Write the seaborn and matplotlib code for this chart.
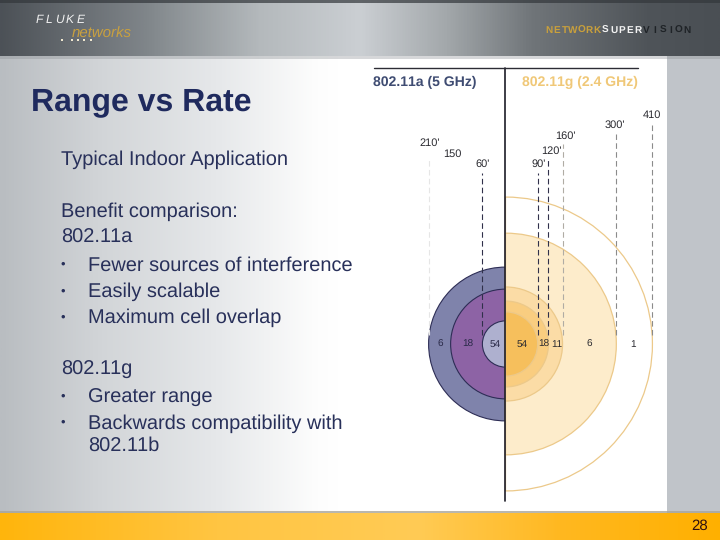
import numpy as np
import pandas as pd
import matplotlib
matplotlib.use("Agg")
import matplotlib.pyplot as plt
from matplotlib.colors import LinearSegmentedColormap
from matplotlib.patches import Wedge, Rectangle
import seaborn as sns

# ---- data ----
a_rates = ["54", "18", "6"]
a_range_labels = ["60'", "150", "210'"]
a_reach_ft = [64, 152, 213]          # drawn radius of each 802.11a ring
g_rates = ["54", "18", "11", "6", "1"]
g_range_labels = ["90'", "120'", "160'", "300'", "410"]
g_reach_ft = [89, 119, 158, 307, 407]  # drawn radius of each 802.11g ring
a_colors = ["#aeb0cf", "#8d63a5", "#7f83ab"]
g_colors = ["#f6bf5c", "#f9cd80", "#fbdca6", "#fdeccb", "#ffffff"]
a_line_colors = ["#30304a", "#eeeeee", "#e6e6e6"]
g_line_colors = ["#30304a", "#30304a", "#b0aca4", "#8b8b8b", "#8b8b8b"]
a_line_top_ft = [473, 0, 510]
g_line_top_ft = [473, 515, 554, 582, 607]
title = "Range vs Rate"
subtitle = "Typical Indoor Application"
body_lines = [
    ("Benefit comparison:", 217, False), ("802.11a", 243, False),
    ("Fewer sources of interference", 270.5, True), ("Easily scalable", 297, True),
    ("Maximum cell overlap", 323, True), ("802.11g", 375, False),
    ("Greater range", 402.5, True), ("Backwards compatibility with", 428.5, True),
]
last_line = "802.11b"
page_number = "28"

FT_PER_PX = 2.77
CX, CY = 505.5, 344.0

sns.set_theme(style="white")
plt.rcParams["font.family"] = ["Liberation Sans", "DejaVu Sans"]
plt.rcParams["text.hinting"] = "no_hinting"
plt.rcParams["text.hinting_factor"] = 1

fig = plt.figure(figsize=(7.2, 5.4), dpi=100)
bg = fig.add_axes([0, 0, 1, 1])
bg.set_xlim(0, 720)
bg.set_ylim(540, 0)
bg.axis("off")


def hgrad(ax, x0, x1, y0, y1, stops, z=1):
    cm = LinearSegmentedColormap.from_list("g", stops)
    ax.imshow(np.linspace(0, 1, 512)[None, :], extent=(x0, x1, y1, y0), cmap=cm,
              aspect="auto", zorder=z, vmin=0, vmax=1, interpolation="bilinear")


hgrad(bg, 0, 720, 56, 513, [(0, "#b9bdc1"), (0.14, "#d2d5d8"), (0.3, "#e6e8ea"),
                            (0.44, "#fdfdfd"), (0.47, "#ffffff"), (1, "#ffffff")])
bg.add_patch(Rectangle((667, 56), 53, 457, fc="#c0c4c9", ec="none", zorder=2))
hgrad(bg, 0, 720, 0, 56, [(0, "#4c5157"), (0.2, "#7f8589"), (0.36, "#b4b9bc"),
                          (0.5, "#cbcfd3"), (0.62, "#a3a8ab"), (0.74, "#707579"),
                          (0.9, "#4f5459"), (1, "#4a4f54")], z=3)
bg.add_patch(Rectangle((0, 0), 720, 3, fc="#33373b", alpha=0.7, ec="none", zorder=4))
bg.add_patch(Rectangle((0, 56), 720, 3, fc="#8a8e92", alpha=0.35, ec="none", zorder=4))
hgrad(bg, 0, 720, 513, 540, [(0, "#ffb50c"), (0.3, "#ffc542"), (0.58, "#ffcb55"),
                             (0.78, "#ffb820"), (1, "#ffb000")], z=3)
bg.add_patch(Rectangle((0, 511), 720, 2, fc="#a8a59a", alpha=0.8, ec="none", zorder=4))
bg.set_xlim(0, 720)
bg.set_ylim(540, 0)

# slide text
NAVY = "#28305a"
bg.text(31, 110, title, fontsize=23, fontweight="bold", color="#1f2a5e", va="baseline", zorder=5)
bg.text(61, 165, subtitle, fontsize=14.5, color=NAVY, va="baseline", zorder=5)
for txt, y, bullet in body_lines:
    bg.text(88 if bullet else 61, y, txt, fontsize=14.4, color=NAVY, va="baseline", zorder=5)
    if bullet:
        bg.text(63, y - 6, "•", fontsize=9, color=NAVY, va="center", ha="center", zorder=5)
bg.text(88, 451, last_line, fontsize=14.4, color=NAVY, va="baseline", zorder=5)
bg.text(699.5, 526, page_number, fontsize=11, color="#301010", va="center", ha="center", zorder=5)

# logo & tagline
for ch, x in zip("FLUKE", [39, 49, 59, 70, 81]):
    bg.text(x, 19.5, ch, fontsize=8.5, style="italic", color="#f2f2f2", ha="center", va="center", zorder=5)
bg.text(72, 34, "networks", fontsize=11, style="italic", color="#c8a040", va="center", zorder=5)
for x in (62, 72, 78, 84, 91):
    bg.add_patch(Rectangle((x - 0.8, 39.4), 1.6, 1.6, fc="#f0e8d0", ec="none", zorder=5))
tag = [("NETWORK", "#c9a03c"), ("SUPER", "#f2f2f2"), ("VISION", "#1f2327")]
x = 548.5
for word, col in tag:
    for ch in word:
        bg.text(x, 30, ch, fontsize=7, fontweight="bold", color=col, ha="center", va="center", zorder=5)
        x += 8.15

# diagram axes, measured in feet from the access point
px = (370, 667, 60, 511)
ax = fig.add_axes([px[0] / 720, 1 - px[3] / 540, (px[1] - px[0]) / 720, (px[3] - px[2]) / 540])
ax.set_xlim((px[0] - CX) * FT_PER_PX, (px[1] - CX) * FT_PER_PX)
ax.set_ylim((CY - px[3]) * FT_PER_PX, (CY - px[2]) * FT_PER_PX)
ax.set_facecolor("#ffffff")
for s in ax.spines.values():
    s.set_visible(False)
ax.set_xticks([])
ax.set_yticks([])

for r, c in reversed(list(zip(a_reach_ft, a_colors))):
    ax.add_patch(Wedge((0, 0), r, 90, 270, fc=c, ec="#2d2d55", lw=0.8, zorder=2))
for r, c in reversed(list(zip(g_reach_ft, g_colors))):
    ax.add_patch(Wedge((0, 0), r, -90, 90, fc=c, ec="#ecc98a", lw=0.9, zorder=2))

# leader lines
rows = []
for i, (r, top, col) in enumerate(zip(a_reach_ft, a_line_top_ft, a_line_colors)):
    if top:
        rows += [dict(x=-r, y=25, ring=f"a{i}", col=col), dict(x=-r, y=top, ring=f"a{i}", col=col)]
for i, (r, top, col) in enumerate(zip(g_reach_ft, g_line_top_ft, g_line_colors)):
    rows += [dict(x=r, y=25, ring=f"g{i}", col=col), dict(x=r, y=top, ring=f"g{i}", col=col)]
lines = pd.DataFrame(rows)
sns.lineplot(data=lines, x="x", y="y", units="ring", hue="col",
             palette={c: c for c in lines["col"].unique()}, estimator=None,
             legend=False, ax=ax, lw=0.8, linestyle=(0, (5, 3)), zorder=3, sort=False)
ax.set_xlabel("")
ax.set_ylabel("")

# axis lines
ax.plot([0, 0], [(CY - 501) * FT_PER_PX, (CY - 68) * FT_PER_PX], color="#1c1c28", lw=1.2, zorder=4)
ax.plot([(374 - CX) * FT_PER_PX, (638 - CX) * FT_PER_PX], [(CY - 68) * FT_PER_PX] * 2,
        color="#2c2c34", lw=1.0, zorder=4)

FS = 7.6
TXT = "#2a2a30"
for lab, xp, yp in zip(a_range_labels[::-1], [430, 452, 483], [143, 154, 164]):
    bg_x, bg_y = (xp - CX) * FT_PER_PX, (CY - yp) * FT_PER_PX
    ax.text(bg_x, bg_y, lab, fontsize=FS, color=TXT, ha="center", va="center", zorder=5)
for lab, xp, yp in zip(g_range_labels, [539, 551, 565, 615, 652], [164, 151, 136, 125, 115]):
    ax.text((xp - CX) * FT_PER_PX, (CY - yp) * FT_PER_PX, lab, fontsize=FS, color=TXT,
            ha="center", va="center", zorder=5)
for lab, xp in zip(a_rates, [495, 468, 440]):
    ax.text((xp - CX) * FT_PER_PX, 0, lab, fontsize=7.4, color="#2a2a48", ha="center", va="center", zorder=5)
for lab, xp in zip(g_rates, [522, 544, 557, 589, 633]):
    ax.text((xp - CX) * FT_PER_PX, 0, lab, fontsize=7.4, color=TXT, ha="center", va="center", zorder=5)

ax.text((373 - CX) * FT_PER_PX, (CY - 86) * FT_PER_PX, "802.11a (5 GHz)", fontsize=10.4,
        fontweight="bold", color="#3f4c72", va="baseline", zorder=5)
ax.text((522 - CX) * FT_PER_PX, (CY - 86) * FT_PER_PX, "802.11g (2.4 GHz)", fontsize=10.3,
        fontweight="bold", color="#f0c878", va="baseline", zorder=5)

fig.savefig("out.png", dpi=100)
